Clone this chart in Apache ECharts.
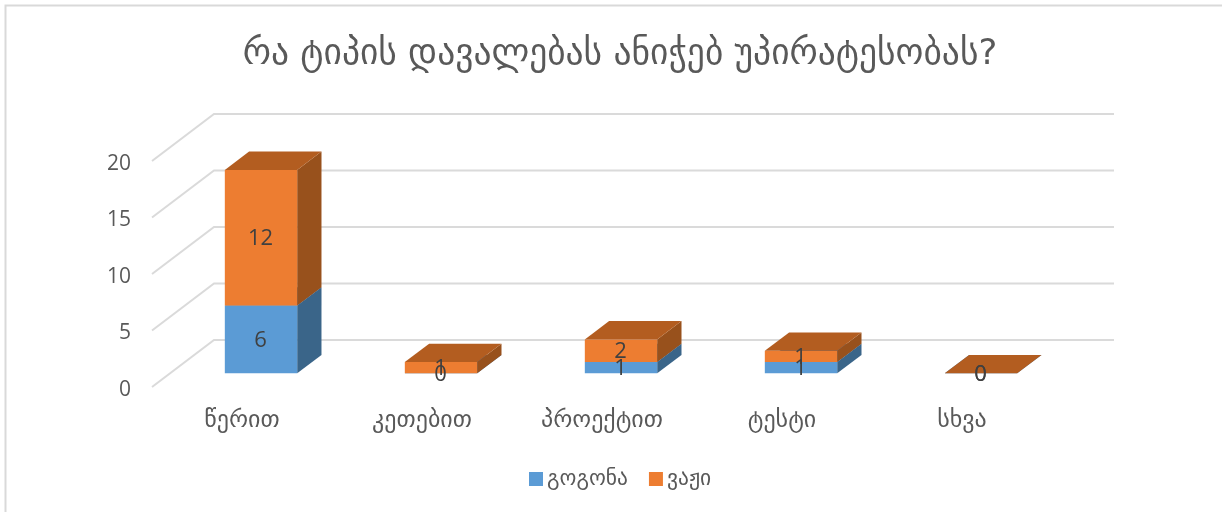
<!DOCTYPE html>
<html>
<head>
<meta charset="utf-8">
<style>html,body{margin:0;padding:0;background:#fff}#c{width:1222px;height:512px}</style>
<script src="https://cdn.jsdelivr.net/npm/echarts@6/dist/echarts.min.js"></script>
</head>
<body>
<div id="c"></div>
<script>
const titleText = 'რა ტიპის დავალებას ანიჭებ უპირატესობას?';
const categories = ['წერით', 'კეთებით', 'პროექტით', 'ტესტი', 'სხვა'];
const girls = [6, 0, 1, 1, 0];
const boys = [12, 1, 2, 1, 0];
const yTicks = [0, 5, 10, 15, 20];
const seriesNames = ['გოგონა', 'ვაჟი'];

const WALL_DX = 62, WALL_DY = -47;
const BAR_OFF_X = 19, BAR_OFF_Y = -13.7;
const BAR_DX = 24.3, BAR_DY = -18.3;
const BAR_SHARE = 0.402;
const FONT_GE = '"DejaVu Sans", sans-serif';
const FONT_NUM = '"Open Sans", sans-serif';

function wallItem(params, api) {
  const v = api.value(0);
  const p = api.coord([0, v]);
  const x0 = p[0] - api.size([1, 0])[0] / 2;
  const x1 = x0 + api.size([1, 0])[0] * categories.length;
  return {
    type: 'polyline',
    shape: { points: [[x0, p[1]], [x0 + WALL_DX, p[1] + WALL_DY], [x1 + WALL_DX, p[1] + WALL_DY]] },
    style: { stroke: '#dadada', lineWidth: 2, fill: null }
  };
}

function cuboid(front, side, top) {
  return function (params, api) {
    const c = api.value(0), a = api.value(1), b = api.value(2);
    const pa = api.coord([c, a]), pb = api.coord([c, b]);
    const w = api.size([1, 0])[0] * BAR_SHARE;
    const l = pa[0] + BAR_OFF_X - w / 2, r = l + w;
    const y0 = pa[1] + BAR_OFF_Y, y1 = pb[1] + BAR_OFF_Y;
    const children = [];
    if (b > a) {
      children.push({ type: 'polygon', shape: { points: [[r, y0], [r + BAR_DX, y0 + BAR_DY], [r + BAR_DX, y1 + BAR_DY], [r, y1]] }, style: { fill: side } });
      children.push({ type: 'rect', shape: { x: l, y: y1, width: w, height: y0 - y1 }, style: { fill: front } });
    }
    children.push({ type: 'polygon', shape: { points: [[l, y1], [r, y1], [r + BAR_DX, y1 + BAR_DY], [l + BAR_DX, y1 + BAR_DY]] }, style: { fill: top } });
    return { type: 'group', children };
  };
}

function labelItem(params, api) {
  const c = api.value(0), a = api.value(1), b = api.value(2);
  const pa = api.coord([c, a]), pb = api.coord([c, b]);
  return {
    type: 'text',
    z2: 100,
    style: {
      x: pa[0] + BAR_OFF_X - 0.5, y: (pa[1] + pb[1]) / 2 + BAR_OFF_Y + 1.5,
      text: String(b - a), align: 'center', verticalAlign: 'middle',
      font: '22px ' + FONT_NUM, fill: '#404040'
    }
  };
}

const girlRows = girls.map((v, i) => [i, 0, v]);
const boyRows = boys.map((v, i) => [i, girls[i], girls[i] + v]);

const chart = echarts.init(document.getElementById('c'), null, { renderer: 'canvas' });
chart.setOption({
  animation: false,
  backgroundColor: '#ffffff',
  title: {
    text: titleText, left: 615, top: 32, textAlign: 'center',
    textStyle: { fontFamily: FONT_GE, fontSize: 35.5, fontWeight: 'normal', color: '#595959' }
  },
  grid: { left: 152, width: 900, top: 161, height: 226, containLabel: false },
  xAxis: {
    type: 'category', data: categories,
    axisLine: { show: false }, axisTick: { show: false }, splitLine: { show: false },
    axisLabel: { margin: 22, fontFamily: FONT_GE, fontSize: 24, color: '#595959', interval: 0 }
  },
  yAxis: {
    type: 'value', min: 0, max: 20, interval: 5,
    axisLine: { show: false }, axisTick: { show: false }, splitLine: { show: false },
    axisLabel: { margin: 21, fontFamily: FONT_NUM, fontSize: 21, color: '#595959', verticalAlign: 'top', lineHeight: 6 }
  },
  legend: {
    data: seriesNames, left: 529, top: 468, padding: 0, icon: 'rect', itemWidth: 14, itemHeight: 14, itemGap: 21,
    selectedMode: false,
    textStyle: { fontFamily: FONT_GE, fontSize: 21.5, color: '#595959', padding: [0, 0, 0, -1] }
  },
  series: [
    { type: 'custom', z: 1, silent: true, coordinateSystem: 'cartesian2d', renderItem: wallItem, data: yTicks.map(v => [v]), encode: { x: null, y: 0 } },
    { type: 'custom', z: 2, name: seriesNames[0], itemStyle: { color: '#5B9BD5' }, renderItem: cuboid('#5B9BD5', '#3A6589', '#44749F'), data: girlRows, encode: { x: 0, y: [1, 2] } },
    { type: 'custom', z: 3, name: seriesNames[1], itemStyle: { color: '#ED7D31' }, renderItem: cuboid('#ED7D31', '#98511C', '#B35D20'), data: boyRows, encode: { x: 0, y: [1, 2] } },
    { type: 'custom', z: 4, silent: true, renderItem: labelItem, data: girlRows, encode: { x: 0, y: [1, 2] } },
    { type: 'custom', z: 4, silent: true, renderItem: labelItem, data: boyRows, encode: { x: 0, y: [1, 2] } }
  ],
  graphic: [{
    type: 'polyline', silent: true, z: -1,
    shape: { points: [[5.5, 520], [5.5, 5.5], [1230, 5.5]] },
    style: { stroke: '#d9d9d9', lineWidth: 2, fill: null }
  }]
});
</script>
</body>
</html>
